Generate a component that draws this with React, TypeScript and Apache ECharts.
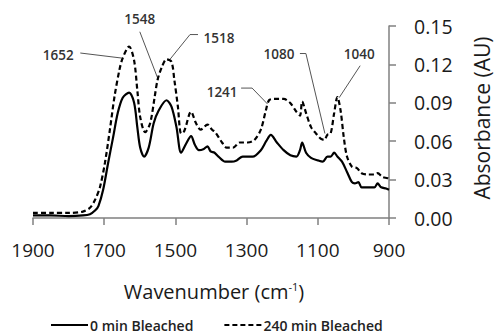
import React, { useEffect, useRef } from "react";
import * as echarts from "echarts";

// 0 min Bleached (solid)
const wn0 = [1900, 1850, 1800, 1760, 1740, 1725, 1716, 1703, 1689, 1675, 1662, 1648, 1630, 1616, 1607, 1599, 1588, 1575, 1561, 1547, 1525, 1511, 1497, 1484, 1470, 1456, 1445, 1434, 1420, 1410, 1401, 1390, 1379, 1360, 1342, 1328, 1311, 1283, 1260, 1245, 1232, 1215, 1196, 1177, 1160, 1150, 1144, 1133, 1119, 1100, 1086, 1073, 1064, 1054, 1045, 1032, 1018, 1004, 996, 986, 977, 959, 941, 932, 922, 908, 900];
const abs0 = [0.002, 0.002, 0.0015, 0.002, 0.003, 0.006, 0.0095, 0.022, 0.043, 0.063, 0.082, 0.094, 0.098, 0.09, 0.071, 0.055, 0.048, 0.055, 0.074, 0.084, 0.092, 0.087, 0.071, 0.051, 0.058, 0.064, 0.057, 0.053, 0.054, 0.056, 0.052, 0.051, 0.048, 0.044, 0.044, 0.045, 0.048, 0.048, 0.053, 0.06, 0.065, 0.059, 0.053, 0.049, 0.048, 0.053, 0.059, 0.051, 0.047, 0.045, 0.044, 0.048, 0.048, 0.051, 0.048, 0.044, 0.036, 0.028, 0.027, 0.028, 0.024, 0.024, 0.024, 0.027, 0.024, 0.023, 0.022];

// 240 min Bleached (dashed)
const wn240 = [1900, 1850, 1800, 1760, 1740, 1726, 1712, 1698, 1684, 1671, 1657, 1648, 1630, 1616, 1607, 1599, 1585, 1571, 1558, 1550, 1538, 1525, 1511, 1503, 1493, 1484, 1475, 1456, 1442, 1429, 1410, 1397, 1388, 1369, 1356, 1338, 1319, 1297, 1278, 1260, 1246, 1237, 1223, 1196, 1178, 1160, 1150, 1144, 1133, 1119, 1105, 1092, 1082, 1073, 1064, 1054, 1045, 1036, 1027, 1018, 1004, 990, 977, 959, 941, 932, 918, 904, 900];
const abs240 = [0.004, 0.004, 0.004, 0.005, 0.008, 0.014, 0.024, 0.043, 0.069, 0.095, 0.116, 0.125, 0.134, 0.123, 0.1, 0.079, 0.067, 0.074, 0.095, 0.108, 0.118, 0.124, 0.122, 0.108, 0.087, 0.066, 0.068, 0.083, 0.074, 0.069, 0.073, 0.069, 0.067, 0.059, 0.055, 0.055, 0.059, 0.059, 0.061, 0.069, 0.084, 0.092, 0.093, 0.093, 0.09, 0.083, 0.08, 0.091, 0.082, 0.071, 0.066, 0.062, 0.061, 0.065, 0.066, 0.082, 0.0945, 0.084, 0.063, 0.048, 0.04, 0.039, 0.035, 0.034, 0.034, 0.035, 0.032, 0.031, 0.03];

const xTicks = [1900, 1700, 1500, 1300, 1100, 900];
const yTicks = [0, 0.03, 0.06, 0.09, 0.12, 0.15];

// peak annotations (point on the 240 min curve)
const annLabels = ["1652", "1548", "1518", "1241", "1080", "1040"];
const annWn = [1652, 1548, 1518, 1241, 1080, 1040];
const annAbs = [0.125, 0.108, 0.123, 0.089, 0.066, 0.094];

// layout of each annotation relative to its target point (pixels)
const annLayout = [
  { label: [-63, -3], leader: [[-41, -5]] },
  { label: [-18.5, -61], leader: [[-18.5, -48]] },
  { label: [50, -23], leader: [[29, -26], [21, -26]] },
  { label: [-45.5, -12], leader: [[-26.5, -16], [-15.5, -16]] },
  { label: [-46, -80], leader: [[-25, -80], [-19, -80]] },
  { label: [20, -44], leader: [[21, -32]] },
];

const FONT = "'Open Sans', 'Liberation Sans', sans-serif";

export default function App() {
  const ref = useRef<HTMLDivElement>(null);
  useEffect(() => {
    if (!ref.current) return;
    const chart = echarts.init(ref.current, null, { renderer: "svg" });
    const axisColor = "#808080";
    chart.setOption({
      animation: false,
      backgroundColor: "#ffffff",
      grid: { left: 33, right: 104, top: 26, bottom: 116, containLabel: false },
      legend: {
        left: 50,
        top: 318,
        padding: 0,
        itemWidth: 37,
        itemHeight: 10,
        itemGap: 30,
        itemStyle: { opacity: 0, borderWidth: 0 },
        textStyle: { fontFamily: FONT, fontSize: 14, fontWeight: 600, color: "#222", padding: [0, 0, 0, -3] },
        data: ["0 min Bleached", "240 min Bleached"],
      },
      xAxis: {
        type: "value",
        inverse: true,
        min: 900,
        max: 1900,
        interval: 200,
        name: "Wavenumber (cm{sup|-1})",
        nameLocation: "middle",
        nameGap: 63,
        nameTextStyle: {
          fontFamily: FONT,
          fontSize: 20,
          color: "#1a1a1a",
          padding: [0, 0, 0, 6],
          rich: { sup: { fontFamily: FONT, fontSize: 11, color: "#1a1a1a", verticalAlign: "top", padding: [0, 0, 9, 0] } },
        },
        axisLine: { lineStyle: { color: axisColor, width: 1.5 } },
        axisTick: { show: true, length: 7, lineStyle: { color: axisColor, width: 1.5 } },
        axisLabel: {
          fontFamily: FONT,
          fontSize: 19,
          color: "#1a1a1a",
          margin: 22,
          formatter: (v: number) => (xTicks.includes(v) ? String(v) : ""),
        },
        splitLine: { show: false },
      },
      yAxis: {
        type: "value",
        position: "right",
        min: 0,
        max: 0.15,
        interval: 0.03,
        name: "Absorbance (AU)",
        nameLocation: "middle",
        nameRotate: 90,
        nameGap: 82,
        nameTextStyle: { fontFamily: FONT, fontSize: 21, color: "#1a1a1a", padding: [0, 0, 0, 8] },
        axisLine: { show: true, lineStyle: { color: axisColor, width: 1.5 } },
        axisTick: { show: true, length: 7, lineStyle: { color: axisColor, width: 1.5 } },
        axisLabel: {
          fontFamily: FONT,
          fontSize: 19.5,
          color: "#1a1a1a",
          margin: 25,
          formatter: (v: number) => {
            const t = yTicks.find((y) => Math.abs(y - v) < 1e-9);
            return t === undefined ? "" : t.toFixed(2);
          },
        },
        splitLine: { show: false },
      },
      series: [
        {
          name: "0 min Bleached",
          type: "line",
          data: wn0.map((w, i) => [w, abs0[i]]),
          symbol: "none",
          smooth: 0.3,
          lineStyle: { color: "#000", width: 2.2, type: "solid" },
          itemStyle: { color: "#000" },
        },
        {
          name: "240 min Bleached",
          type: "line",
          data: wn240.map((w, i) => [w, abs240[i]]),
          symbol: "none",
          smooth: 0.3,
          lineStyle: { color: "#000", width: 2.2, type: [5, 3] },
          itemStyle: { color: "#000" },
        },
      ],
    });

    const graphics: any[] = [];
    annLabels.forEach((lab, i) => {
      const p = chart.convertToPixel({ gridIndex: 0 }, [annWn[i], annAbs[i]]) as number[];
      const lay = annLayout[i];
      const pts = lay.leader.map((d) => [p[0] + d[0], p[1] + d[1]]);
      pts.push([p[0], p[1]]);
      graphics.push({
        type: "polyline",
        shape: { points: pts },
        style: { stroke: "#555", lineWidth: 1, fill: null },
        silent: true,
      });
      graphics.push({
        type: "text",
        x: p[0] + lay.label[0],
        y: p[1] + lay.label[1],
        style: {
          text: lab,
          fontFamily: FONT,
          fontSize: 13.5,
          fontWeight: 600,
          fill: "#333",
          align: "center",
          verticalAlign: "middle",
        },
        silent: true,
      });
    });
    chart.setOption({ graphic: graphics });

    return () => chart.dispose();
  }, []);
  return <div ref={ref} style={{ width: 500, height: 334, position: "absolute", left: 0, top: 0 }} />;
}
